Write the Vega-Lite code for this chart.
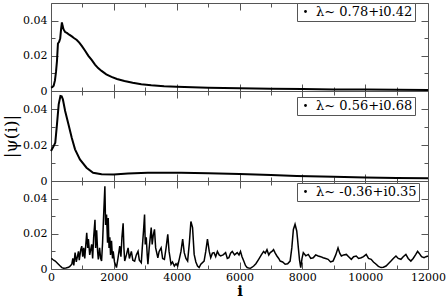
{
  "$schema": "https://vega.github.io/schema/vega-lite/v6.json",
  "padding": {"left": 2, "top": 2, "right": 0, "bottom": 0},
  "data": {"values": [
    {"p":1,"i":0,"v":0.0019},{"p":1,"i":40,"v":0.0022},{"p":1,"i":85,"v":0.003},{"p":1,"i":126,"v":0.006},{"p":1,"i":160,"v":0.011},{"p":1,"i":190,"v":0.017},{"p":1,"i":221,"v":0.027},{"p":1,"i":260,"v":0.028},{"p":1,"i":294,"v":0.030},{"p":1,"i":320,"v":0.035},{"p":1,"i":347,"v":0.039},{"p":1,"i":370,"v":0.037},{"p":1,"i":400,"v":0.035},{"p":1,"i":450,"v":0.0335},{"p":1,"i":505,"v":0.033},{"p":1,"i":580,"v":0.032},{"p":1,"i":663,"v":0.031},{"p":1,"i":740,"v":0.030},{"p":1,"i":821,"v":0.029},{"p":1,"i":900,"v":0.0275},{"p":1,"i":979,"v":0.0256},{"p":1,"i":1080,"v":0.023},{"p":1,"i":1190,"v":0.020},{"p":1,"i":1300,"v":0.0175},{"p":1,"i":1400,"v":0.015},{"p":1,"i":1500,"v":0.013},{"p":1,"i":1610,"v":0.0114},{"p":1,"i":1760,"v":0.0095},{"p":1,"i":1926,"v":0.008},{"p":1,"i":2100,"v":0.0068},{"p":1,"i":2337,"v":0.0057},{"p":1,"i":2600,"v":0.0047},{"p":1,"i":2874,"v":0.0038},{"p":1,"i":3190,"v":0.0032},{"p":1,"i":3600,"v":0.0027},{"p":1,"i":4000,"v":0.0024},{"p":1,"i":4500,"v":0.0021},{"p":1,"i":5000,"v":0.0019},{"p":1,"i":6000,"v":0.0016},{"p":1,"i":7000,"v":0.0013},{"p":1,"i":8000,"v":0.0011},{"p":1,"i":9000,"v":0.0009},{"p":1,"i":10000,"v":0.0008},{"p":1,"i":11000,"v":0.0007},{"p":1,"i":12000,"v":0.0006},
    {"p":2,"i":0,"v":0.0167},{"p":2,"i":85,"v":0.0194},{"p":2,"i":136,"v":0.0213},{"p":2,"i":190,"v":0.0315},{"p":2,"i":245,"v":0.0426},{"p":2,"i":300,"v":0.0472},{"p":2,"i":340,"v":0.047},{"p":2,"i":378,"v":0.0454},{"p":2,"i":450,"v":0.0389},{"p":2,"i":555,"v":0.0315},{"p":2,"i":660,"v":0.024},{"p":2,"i":765,"v":0.0176},{"p":2,"i":920,"v":0.012},{"p":2,"i":1130,"v":0.0074},{"p":2,"i":1340,"v":0.0046},{"p":2,"i":1610,"v":0.0037},{"p":2,"i":2000,"v":0.0036},{"p":2,"i":2450,"v":0.0042},{"p":2,"i":3080,"v":0.0046},{"p":2,"i":4140,"v":0.0046},{"p":2,"i":5000,"v":0.0043},{"p":2,"i":6000,"v":0.0039},{"p":2,"i":7000,"v":0.0033},{"p":2,"i":7820,"v":0.0028},{"p":2,"i":9000,"v":0.0023},{"p":2,"i":10000,"v":0.002},{"p":2,"i":11000,"v":0.0017},{"p":2,"i":12000,"v":0.0015},
    {"p":3,"i":10,"v":0.006},{"p":3,"i":32,"v":0.0058},{"p":3,"i":85,"v":0.005},{"p":3,"i":136,"v":0.0045},{"p":3,"i":221,"v":0.003},{"p":3,"i":294,"v":0.0017},{"p":3,"i":347,"v":0.0008},{"p":3,"i":400,"v":0.0004},{"p":3,"i":474,"v":0.0006},{"p":3,"i":560,"v":0.001},{"p":3,"i":600,"v":0.0015},{"p":3,"i":663,"v":0.0027},{"p":3,"i":695,"v":0.006},{"p":3,"i":726,"v":0.002},{"p":3,"i":767,"v":0.0093},{"p":3,"i":805,"v":0.004},{"p":3,"i":875,"v":0.010},{"p":3,"i":900,"v":0.005},{"p":3,"i":947,"v":0.011},{"p":3,"i":979,"v":0.013},{"p":3,"i":1010,"v":0.007},{"p":3,"i":1042,"v":0.012},{"p":3,"i":1074,"v":0.006},{"p":3,"i":1137,"v":0.0206},{"p":3,"i":1168,"v":0.012},{"p":3,"i":1190,"v":0.017},{"p":3,"i":1232,"v":0.008},{"p":3,"i":1295,"v":0.014},{"p":3,"i":1326,"v":0.006},{"p":3,"i":1358,"v":0.018},{"p":3,"i":1400,"v":0.028},{"p":3,"i":1421,"v":0.012},{"p":3,"i":1453,"v":0.022},{"p":3,"i":1484,"v":0.010},{"p":3,"i":1506,"v":0.0055},{"p":3,"i":1547,"v":0.012},{"p":3,"i":1579,"v":0.006},{"p":3,"i":1610,"v":0.0045},{"p":3,"i":1642,"v":0.015},{"p":3,"i":1674,"v":0.030},{"p":3,"i":1715,"v":0.047},{"p":3,"i":1737,"v":0.025},{"p":3,"i":1768,"v":0.031},{"p":3,"i":1800,"v":0.015},{"p":3,"i":1822,"v":0.029},{"p":3,"i":1847,"v":0.012},{"p":3,"i":1873,"v":0.018},{"p":3,"i":1895,"v":0.008},{"p":3,"i":1926,"v":0.016},{"p":3,"i":1958,"v":0.006},{"p":3,"i":1980,"v":0.010},{"p":3,"i":2021,"v":0.004},{"p":3,"i":2084,"v":0.0008},{"p":3,"i":2132,"v":0.006},{"p":3,"i":2188,"v":0.013},{"p":3,"i":2226,"v":0.007},{"p":3,"i":2258,"v":0.018},{"p":3,"i":2296,"v":0.026},{"p":3,"i":2321,"v":0.012},{"p":3,"i":2346,"v":0.0045},{"p":3,"i":2400,"v":0.008},{"p":3,"i":2454,"v":0.012},{"p":3,"i":2495,"v":0.006},{"p":3,"i":2558,"v":0.010},{"p":3,"i":2605,"v":0.005},{"p":3,"i":2662,"v":0.0045},{"p":3,"i":2716,"v":0.008},{"p":3,"i":2770,"v":0.010},{"p":3,"i":2811,"v":0.005},{"p":3,"i":2874,"v":0.0036},{"p":3,"i":2905,"v":0.012},{"p":3,"i":2946,"v":0.022},{"p":3,"i":2978,"v":0.031},{"p":3,"i":3000,"v":0.014},{"p":3,"i":3032,"v":0.018},{"p":3,"i":3063,"v":0.008},{"p":3,"i":3085,"v":0.0027},{"p":3,"i":3126,"v":0.012},{"p":3,"i":3190,"v":0.0235},{"p":3,"i":3221,"v":0.014},{"p":3,"i":3253,"v":0.019},{"p":3,"i":3294,"v":0.0225},{"p":3,"i":3331,"v":0.012},{"p":3,"i":3401,"v":0.0064},{"p":3,"i":3442,"v":0.010},{"p":3,"i":3505,"v":0.012},{"p":3,"i":3553,"v":0.006},{"p":3,"i":3610,"v":0.0055},{"p":3,"i":3663,"v":0.012},{"p":3,"i":3717,"v":0.0197},{"p":3,"i":3758,"v":0.010},{"p":3,"i":3821,"v":0.0027},{"p":3,"i":3868,"v":0.004},{"p":3,"i":3926,"v":0.0017},{"p":3,"i":3979,"v":0.003},{"p":3,"i":4033,"v":0.0017},{"p":3,"i":4089,"v":0.006},{"p":3,"i":4137,"v":0.010},{"p":3,"i":4191,"v":0.017},{"p":3,"i":4241,"v":0.0093},{"p":3,"i":4295,"v":0.006},{"p":3,"i":4349,"v":0.0045},{"p":3,"i":4405,"v":0.015},{"p":3,"i":4453,"v":0.027},{"p":3,"i":4506,"v":0.0235},{"p":3,"i":4557,"v":0.0083},{"p":3,"i":4611,"v":0.004},{"p":3,"i":4664,"v":0.0017},{"p":3,"i":4715,"v":0.0008},{"p":3,"i":4769,"v":0.0027},{"p":3,"i":4873,"v":0.0045},{"p":3,"i":4926,"v":0.010},{"p":3,"i":4980,"v":0.017},{"p":3,"i":5037,"v":0.010},{"p":3,"i":5084,"v":0.0064},{"p":3,"i":5138,"v":0.009},{"p":3,"i":5189,"v":0.0093},{"p":3,"i":5242,"v":0.007},{"p":3,"i":5296,"v":0.010},{"p":3,"i":5353,"v":0.008},{"p":3,"i":5400,"v":0.0074},{"p":3,"i":5479,"v":0.008},{"p":3,"i":5558,"v":0.0093},{"p":3,"i":5612,"v":0.006},{"p":3,"i":5662,"v":0.0064},{"p":3,"i":5716,"v":0.009},{"p":3,"i":5770,"v":0.010},{"p":3,"i":5842,"v":0.008},{"p":3,"i":5928,"v":0.0093},{"p":3,"i":5984,"v":0.008},{"p":3,"i":6032,"v":0.010},{"p":3,"i":6080,"v":0.007},{"p":3,"i":6136,"v":0.0045},{"p":3,"i":6190,"v":0.002},{"p":3,"i":6243,"v":0.0008},{"p":3,"i":6300,"v":0.0005},{"p":3,"i":6347,"v":0.0004},{"p":3,"i":6401,"v":0.001},{"p":3,"i":6452,"v":0.0017},{"p":3,"i":6521,"v":0.003},{"p":3,"i":6610,"v":0.0055},{"p":3,"i":6695,"v":0.008},{"p":3,"i":6768,"v":0.010},{"p":3,"i":6821,"v":0.009},{"p":3,"i":6875,"v":0.011},{"p":3,"i":6932,"v":0.008},{"p":3,"i":6979,"v":0.0093},{"p":3,"i":7033,"v":0.010},{"p":3,"i":7083,"v":0.011},{"p":3,"i":7137,"v":0.009},{"p":3,"i":7191,"v":0.0074},{"p":3,"i":7248,"v":0.006},{"p":3,"i":7295,"v":0.0045},{"p":3,"i":7374,"v":0.004},{"p":3,"i":7453,"v":0.0027},{"p":3,"i":7532,"v":0.003},{"p":3,"i":7611,"v":0.0045},{"p":3,"i":7665,"v":0.012},{"p":3,"i":7715,"v":0.0225},{"p":3,"i":7768,"v":0.0254},{"p":3,"i":7822,"v":0.0216},{"p":3,"i":7848,"v":0.017},{"p":3,"i":7873,"v":0.012},{"p":3,"i":7911,"v":0.005},{"p":3,"i":7949,"v":0.0008},{"p":3,"i":7990,"v":0.006},{"p":3,"i":8031,"v":0.0093},{"p":3,"i":8110,"v":0.0075},{"p":3,"i":8189,"v":0.0083},{"p":3,"i":8268,"v":0.006},{"p":3,"i":8347,"v":0.0064},{"p":3,"i":8426,"v":0.008},{"p":3,"i":8505,"v":0.0074},{"p":3,"i":8584,"v":0.007},{"p":3,"i":8663,"v":0.0064},{"p":3,"i":8742,"v":0.006},{"p":3,"i":8820,"v":0.0055},{"p":3,"i":8899,"v":0.004},{"p":3,"i":8978,"v":0.0045},{"p":3,"i":9063,"v":0.008},{"p":3,"i":9136,"v":0.012},{"p":3,"i":9190,"v":0.009},{"p":3,"i":9243,"v":0.0074},{"p":3,"i":9316,"v":0.008},{"p":3,"i":9401,"v":0.0083},{"p":3,"i":9474,"v":0.007},{"p":3,"i":9559,"v":0.0055},{"p":3,"i":9632,"v":0.007},{"p":3,"i":9717,"v":0.0074},{"p":3,"i":9790,"v":0.006},{"p":3,"i":9875,"v":0.0064},{"p":3,"i":9947,"v":0.007},{"p":3,"i":10033,"v":0.0083},{"p":3,"i":10106,"v":0.006},{"p":3,"i":10191,"v":0.0055},{"p":3,"i":10263,"v":0.004},{"p":3,"i":10349,"v":0.0027},{"p":3,"i":10421,"v":0.0015},{"p":3,"i":10507,"v":0.0008},{"p":3,"i":10579,"v":0.001},{"p":3,"i":10665,"v":0.0017},{"p":3,"i":10737,"v":0.003},{"p":3,"i":10822,"v":0.0045},{"p":3,"i":10895,"v":0.006},{"p":3,"i":10980,"v":0.0074},{"p":3,"i":11053,"v":0.006},{"p":3,"i":11138,"v":0.0055},{"p":3,"i":11211,"v":0.007},{"p":3,"i":11296,"v":0.0083},{"p":3,"i":11369,"v":0.006},{"p":3,"i":11454,"v":0.0045},{"p":3,"i":11527,"v":0.006},{"p":3,"i":11612,"v":0.0083},{"p":3,"i":11669,"v":0.010},{"p":3,"i":11716,"v":0.009},{"p":3,"i":11795,"v":0.007},{"p":3,"i":11874,"v":0.0064},{"p":3,"i":11937,"v":0.007},{"p":3,"i":12000,"v":0.0074}
  ]},
  "spacing": 0,
  "bounds": "flush",
  "resolve": {"scale": {"color": "independent"}, "legend": {"color": "independent"}},
  "vconcat": [
    {
      "width": 377, "height": 88,
      "transform": [{"filter": "datum.p == 1"}],
      "layer": [
        {"mark": {"type": "line", "strokeWidth": 2},
         "encoding": {
           "x": {"field": "i", "type": "quantitative", "scale": {"domain": [0, 12000], "nice": false},
                 "axis": {"orient": "bottom", "title": null, "labels": false, "values": [0,1000,2000,3000,4000,5000,6000,7000,8000,9000,10000,11000,12000],
                          "tickSize": {"condition": {"test": "round(datum.value/1000)%2==1", "value": -4}, "value": -7}}},
           "y": {"field": "v", "type": "quantitative", "scale": {"domain": [0, 0.05], "nice": false},
                 "axis": {"orient": "left", "title": null, "values": [0,0.01,0.02,0.03,0.04], "labelPadding": 11,
                          "labelExpr": "round(datum.value*100)%2==0 ? (datum.value==0 ? '0' : format(datum.value,'.2f')) : ''",
                          "tickSize": {"condition": {"test": "round(datum.value*100)%2==1", "value": -4}, "value": -7}}},
           "color": {"datum": "λ~ 0.78+i0.42", "scale": {"range": ["black"]},
                     "legend": {"orient": "none", "legendX": 246, "legendY": 0}}
         }},
        {"mark": {"type": "line", "strokeOpacity": 0},
         "encoding": {
           "x": {"field": "i", "type": "quantitative",
                 "axis": {"orient": "top", "title": null, "labels": false, "values": [0,1000,2000,3000,4000,5000,6000,7000,8000,9000,10000,11000,12000],
                          "tickSize": {"condition": {"test": "round(datum.value/1000)%2==1", "value": -4}, "value": -7}}},
           "y": {"field": "v", "type": "quantitative",
                 "axis": {"orient": "right", "title": null, "labels": false, "values": [0,0.01,0.02,0.03,0.04],
                          "tickSize": {"condition": {"test": "round(datum.value*100)%2==1", "value": -4}, "value": -7}}}
         }}
      ],
      "resolve": {"axis": {"x": "independent", "y": "independent"}}
    },
    {
      "width": 377, "height": 90,
      "transform": [{"filter": "datum.p == 2"}],
      "layer": [
        {"mark": {"type": "line", "strokeWidth": 2},
         "encoding": {
           "x": {"field": "i", "type": "quantitative", "scale": {"domain": [0, 12000], "nice": false},
                 "axis": {"orient": "bottom", "title": null, "labels": false, "values": [0,1000,2000,3000,4000,5000,6000,7000,8000,9000,10000,11000,12000],
                          "tickSize": {"condition": {"test": "round(datum.value/1000)%2==1", "value": -4}, "value": -7}}},
           "y": {"field": "v", "type": "quantitative", "scale": {"domain": [0, 0.05], "nice": false},
                 "axis": {"orient": "left", "title": "|ψ(i)|", "titleFontSize": 17, "titlePadding": 2, "values": [0,0.01,0.02,0.03,0.04], "labelPadding": 11,
                          "labelExpr": "round(datum.value*100)%2==0 ? (datum.value==0 ? '0' : format(datum.value,'.2f')) : ''",
                          "tickSize": {"condition": {"test": "round(datum.value*100)%2==1", "value": -4}, "value": -7}}},
           "color": {"datum": "λ~ 0.56+i0.68", "scale": {"range": ["black"]},
                     "legend": {"orient": "none", "legendX": 246, "legendY": 6}}
         }},
        {"mark": {"type": "line", "strokeOpacity": 0},
         "encoding": {
           "x": {"field": "i", "type": "quantitative",
                 "axis": {"orient": "top", "title": null, "labels": false, "values": [0,1000,2000,3000,4000,5000,6000,7000,8000,9000,10000,11000,12000],
                          "tickSize": {"condition": {"test": "round(datum.value/1000)%2==1", "value": -4}, "value": -7}}},
           "y": {"field": "v", "type": "quantitative",
                 "axis": {"orient": "right", "title": null, "labels": false, "values": [0,0.01,0.02,0.03,0.04],
                          "tickSize": {"condition": {"test": "round(datum.value*100)%2==1", "value": -4}, "value": -7}}}
         }}
      ],
      "resolve": {"axis": {"x": "independent", "y": "independent"}}
    },
    {
      "width": 377, "height": 88,
      "transform": [{"filter": "datum.p == 3"}],
      "layer": [
        {"mark": {"type": "line", "strokeWidth": 1.5},
         "encoding": {
           "x": {"field": "i", "type": "quantitative", "scale": {"domain": [0, 12000], "nice": false},
                 "axis": {"orient": "bottom", "title": "i", "titleFontSize": 15, "titleFontWeight": "bold", "titlePadding": 1, "labelPadding": 9, "labelFlush": false,
                          "values": [0,1000,2000,3000,4000,5000,6000,7000,8000,9000,10000,11000,12000],
                          "labelExpr": "datum.value % 2000 == 0 ? format(datum.value,'d') : ''",
                          "tickSize": {"condition": {"test": "round(datum.value/1000)%2==1", "value": -4}, "value": -7}}},
           "y": {"field": "v", "type": "quantitative", "scale": {"domain": [0, 0.05], "nice": false},
                 "axis": {"orient": "left", "title": null, "values": [0,0.01,0.02,0.03,0.04], "labelPadding": 11,
                          "labelExpr": "round(datum.value*100)%2==0 ? (datum.value==0 ? '0' : format(datum.value,'.2f')) : ''",
                          "tickSize": {"condition": {"test": "round(datum.value*100)%2==1", "value": -4}, "value": -7}}},
           "color": {"datum": "λ~ -0.36+i0.35", "scale": {"range": ["black"]},
                     "legend": {"orient": "none", "legendX": 246, "legendY": 2}}
         }},
        {"mark": {"type": "line", "strokeOpacity": 0},
         "encoding": {
           "x": {"field": "i", "type": "quantitative",
                 "axis": {"orient": "top", "title": null, "labels": false, "values": [0,1000,2000,3000,4000,5000,6000,7000,8000,9000,10000,11000,12000],
                          "tickSize": {"condition": {"test": "round(datum.value/1000)%2==1", "value": -4}, "value": -7}}},
           "y": {"field": "v", "type": "quantitative",
                 "axis": {"orient": "right", "title": null, "labels": false, "values": [0,0.01,0.02,0.03,0.04],
                          "tickSize": {"condition": {"test": "round(datum.value*100)%2==1", "value": -4}, "value": -7}}}
         }}
      ],
      "resolve": {"axis": {"x": "independent", "y": "independent"}}
    }
  ],
  "config": {
    "font": "DejaVu Serif",
    "view": {"stroke": "#555", "strokeWidth": 1},
    "axis": {"grid": false, "domain": false, "labelFont": "DejaVu Serif", "labelFontSize": 11, "labelColor": "black",
             "tickColor": "#555", "titleFont": "DejaVu Serif", "titleColor": "black", "titleFontWeight": "normal"},
    "legend": {"title": null, "labelFont": "DejaVu Serif", "labelFontSize": 13, "labelColor": "black",
               "symbolType": "circle", "symbolSize": 8, "symbolFillColor": "black", "symbolStrokeColor": "black", "symbolStrokeWidth": 0,
               "strokeColor": "#555", "fillColor": "white", "padding": 2, "labelOffset": 4}
  }
}
